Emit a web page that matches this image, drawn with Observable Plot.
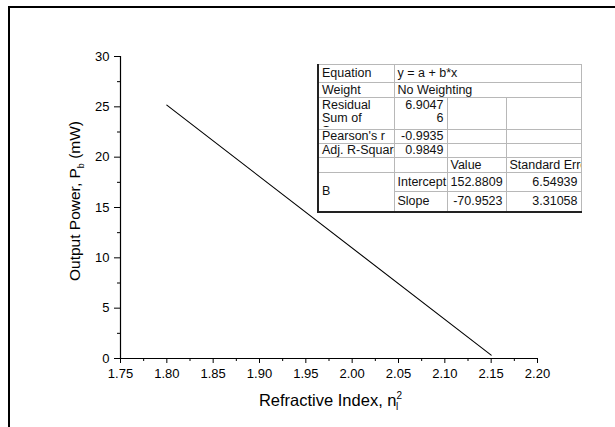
<!DOCTYPE html>
<html>
<head>
<meta charset="utf-8">
<script src="https://cdn.jsdelivr.net/npm/d3@7"></script>
<script src="https://cdn.jsdelivr.net/npm/@observablehq/plot@0.6"></script>
<style>
  html, body { margin: 0; padding: 0; background: #fff; overflow: hidden; }
  #wrap { position: relative; width: 615px; height: 427px; font-family: "Liberation Sans", Arial, sans-serif; }
  #frame { position: absolute; left: 8px; top: 6px; width: 700px; height: 500px;
           border-left: 2.5px solid #000; border-top: 2.5px solid #000; pointer-events: none; }
  #chart { position: absolute; left: 0; top: 0; }
  #stats { position: absolute; left: 317px; top: 64px; width: 263px; border-collapse: collapse; table-layout: fixed;
           font-family: "Liberation Sans", Arial, sans-serif; font-size: 12.5px; color: #111;
           border-left: 2px solid #222; border-bottom: 2px solid #222; border-top: 1px solid #555; border-right: 1px solid #888; background: #fff; }
  #stats td { border: 1px solid #b8b8b8; padding: 0 3px; white-space: nowrap; overflow: hidden;
              text-overflow: clip; line-height: 13px; vertical-align: middle; }
  #stats td.r { text-align: right; }
  #stats td.l { text-align: left; }
  #stats td.wrap { white-space: normal; vertical-align: top; padding-top: 1px; }
  #stats td.wrap div { height: 28px; overflow: hidden; }
</style>
</head>
<body>
<div id="wrap">
  <div id="chart"></div>
  <div id="frame"></div>
</div>
<script>
// ---- data ----
const xValues = [1.80, 2.15];          // refractive index n_l^2 (line ends)
const yValues = [25.17, 0.33];         // output power P_b (mW)
const xTicks = [1.75, 1.80, 1.85, 1.90, 1.95, 2.00, 2.05, 2.10, 2.15, 2.20];
const xMinorTicks = [1.775, 1.825, 1.875, 1.925, 1.975, 2.025, 2.075, 2.125, 2.175];
const yTicks = [0, 5, 10, 15, 20, 25, 30];
const yMinorTicks = [2.5, 7.5, 12.5, 17.5, 22.5, 27.5];
const xLabel = "Refractive Index, n";
const yLabel = ["Output Power, P", "b", " (mW)"];

// fit-statistics table text
const statLabels = ["Equation", "Weight", "Residual Sum of Squares", "Pearson's r", "Adj. R-Square"];
const statValues = ["y = a + b*x", "No Weighting", "6.90476", "-0.9935", "0.9849"];
const paramHeader = ["", "", "Value", "Standard Error"];
const paramNames = ["Intercept", "Slope"];
const paramValues = [152.8809, -70.9523];
const paramErrors = [6.54939, 3.31058];
const groupName = "B";

// ---- chart ----
const data = xValues.map((x, i) => ({x, y: yValues[i]}));
const W = 615, H = 427;
const plot = Plot.plot({
  width: W, height: H,
  marginLeft: 120, marginRight: 78, marginTop: 56, marginBottom: 69,
  style: {fontFamily: "Liberation Sans, Arial, sans-serif", fontSize: "13px", color: "#000", background: "transparent"},
  x: {domain: [1.75, 2.20], label: null},
  y: {domain: [0, 30], label: null},
  marks: [
    Plot.axisX({ticks: xTicks, tickFormat: d3.format(".2f"), tickSize: 5, tickPadding: 5, fontSize: 13, label: null, stroke: "#000"}),
    Plot.axisX({ticks: xMinorTicks, tickSize: 3, text: null, label: null, stroke: "#000"}),
    Plot.axisY({ticks: yTicks, tickFormat: d => String(d), tickSize: 6, tickPadding: 5, fontSize: 13, label: null, stroke: "#000"}),
    Plot.axisY({ticks: yMinorTicks, tickSize: 3, text: null, label: null, stroke: "#000"}),
    Plot.ruleY([0], {stroke: "#000", strokeWidth: 1.2}),
    Plot.ruleX([1.75], {stroke: "#000", strokeWidth: 1.2}),
    Plot.line(data, {x: "x", y: "y", stroke: "#000", strokeWidth: 1.1})
  ]
});
document.getElementById("chart").appendChild(plot);

// axis titles with sub/superscripts
const svg = d3.select(plot);
const xs = plot.scale("x"), ys = plot.scale("y");
const xMid = (xs.range[0] + xs.range[1]) / 2;
const yMid = (ys.range[0] + ys.range[1]) / 2;
const xt = svg.append("text").attr("x", xMid + 2).attr("y", 406)
  .attr("text-anchor", "middle").attr("font-size", 16.5).attr("fill", "#000");
xt.append("tspan").text(xLabel);
xt.append("tspan").attr("font-size", 10).attr("dy", -7).text("2");
xt.append("tspan").attr("font-size", 10).attr("dx", -6).attr("dy", 11).text("l");

const yt = svg.append("text").attr("transform", `translate(80,${yMid - 6}) rotate(-90)`)
  .attr("text-anchor", "middle").attr("font-size", 15.5).attr("fill", "#000");
yt.append("tspan").text(yLabel[0]);
yt.append("tspan").attr("font-size", 9).attr("dy", 4).text(yLabel[1]);
yt.append("tspan").attr("dy", -4).text(yLabel[2]);

// ---- stats table ----
const colW = [76, 53, 59, 75];
const rowH = [18, 15, 32, 14, 14, 15, 19, 20];
const tbl = document.createElement("table");
tbl.id = "stats";
const cg = document.createElement("colgroup");
colW.forEach(w => { const c = document.createElement("col"); c.style.width = w + "px"; cg.appendChild(c); });
tbl.appendChild(cg);
function row(h) { const tr = document.createElement("tr"); tr.style.height = h + "px"; tbl.appendChild(tr); return tr; }
function cell(tr, text, cls, opts = {}) {
  const td = document.createElement("td");
  td.className = cls || "l";
  if (opts.colspan) td.colSpan = opts.colspan;
  if (opts.rowspan) td.rowSpan = opts.rowspan;
  if (opts.html) td.appendChild(opts.html); else td.textContent = text;
  tr.appendChild(td);
  return td;
}
// Equation / Weight
let r = row(rowH[0]); cell(r, statLabels[0]); cell(r, statValues[0], "l", {colspan: 3});
r = row(rowH[1]); cell(r, statLabels[1]); cell(r, statValues[1], "l", {colspan: 3});
// Residual sum of squares (wrapped, clipped)
r = row(rowH[2]);
{ const d = document.createElement("div"); d.style.width = "58px"; d.textContent = statLabels[2]; cell(r, "", "l wrap", {html: d}); }
{ const d = document.createElement("div"); d.style.textAlign = "right";
  d.append(statValues[2].slice(0, 6), document.createElement("br"), statValues[2].slice(6));
  cell(r, "", "r wrap", {html: d}); }
cell(r, ""); cell(r, "");
r = row(rowH[3]); cell(r, statLabels[3]); cell(r, statValues[3], "r"); cell(r, ""); cell(r, "");
r = row(rowH[4]); cell(r, statLabels[4]); cell(r, statValues[4], "r"); cell(r, ""); cell(r, "");
r = row(rowH[5]); paramHeader.forEach(t => cell(r, t, "l"));
r = row(rowH[6]); cell(r, groupName, "l", {rowspan: 2}); cell(r, paramNames[0]);
cell(r, paramValues[0].toFixed(4), "r"); cell(r, String(paramErrors[0]), "r");
r = row(rowH[7]); cell(r, paramNames[1]);
cell(r, paramValues[1].toFixed(4), "r"); cell(r, String(paramErrors[1]), "r");
document.getElementById("wrap").appendChild(tbl);
</script>
</body>
</html>
